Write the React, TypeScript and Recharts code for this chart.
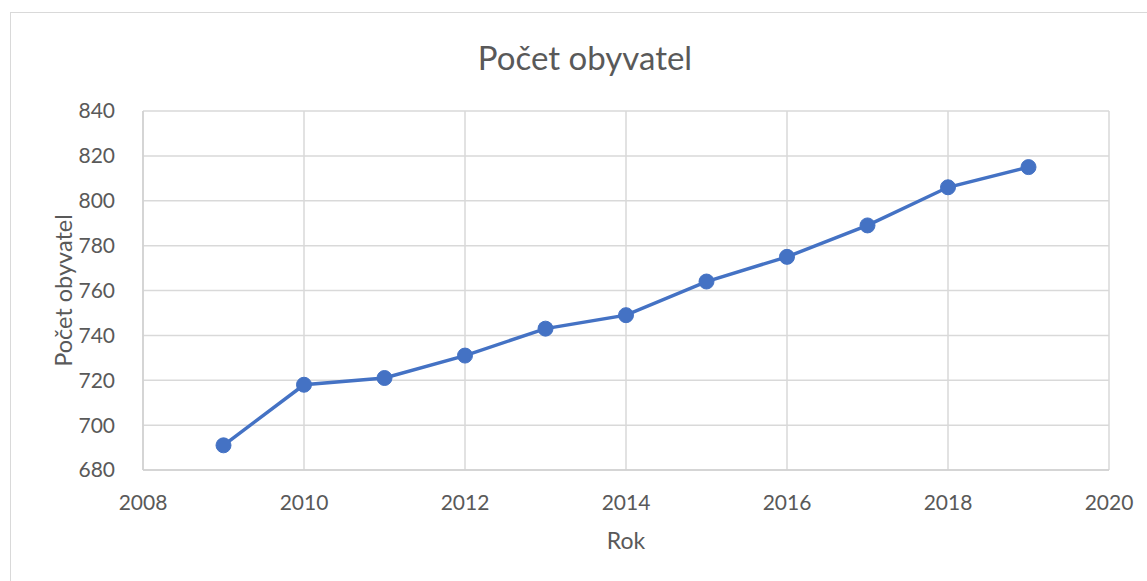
import { LineChart, Line, XAxis, YAxis, CartesianGrid, Label } from "recharts";

const years = [2009, 2010, 2011, 2012, 2013, 2014, 2015, 2016, 2017, 2018, 2019];
const population = [691, 718, 721, 731, 743, 749, 764, 775, 789, 806, 815];
const xTicks = [2008, 2010, 2012, 2014, 2016, 2018, 2020];
const yTicks = [680, 700, 720, 740, 760, 780, 800, 820, 840];

const data = years.map((rok, i) => ({ rok, pocet: population[i] }));

const FONT = "Lato, 'Open Sans', sans-serif";
const GRAY = "#595959";

const App = () => {
  return (
    <div style={{ position: "absolute", left: 0, top: 0, width: 1147, height: 581, background: "#fff", overflow: "hidden", fontFamily: FONT }}>
      {/* chart frame, only left and top edges are in view */}
      <div style={{ position: "absolute", left: 10, top: 12, width: 1200, height: 620, border: "1.5px solid #d9d9d9" }} />
      <div style={{ position: "absolute", left: 10, top: 37, width: 1150, textAlign: "center", fontSize: 33, color: GRAY, lineHeight: "40px" }}>
        Počet obyvatel
      </div>
      <div style={{ position: "absolute", left: 0, top: 0 }}>
        <LineChart width={1147} height={581} data={data} margin={{ top: 111, right: 38, left: 0, bottom: 0 }}>
          <CartesianGrid stroke="#d9d9d9" strokeWidth={1.5} verticalValues={xTicks} horizontalValues={yTicks} />
          <XAxis
            dataKey="rok"
            type="number"
            domain={[2008, 2020]}
            ticks={xTicks}
            height={111}
            axisLine={{ stroke: "#d0d0d0", strokeWidth: 1.5 }}
            tickLine={false}
            tick={{ fill: GRAY, fontSize: 21, fontFamily: FONT }}
            tickMargin={19}
          >
            <Label value="Rok" position="insideTop" offset={63} style={{ fill: GRAY, fontSize: 23, fontFamily: FONT }} />
          </XAxis>
          <YAxis
            type="number"
            domain={[680, 840]}
            ticks={yTicks}
            width={143}
            axisLine={{ stroke: "#d0d0d0", strokeWidth: 1.5 }}
            tickLine={false}
            tick={{ fill: GRAY, fontSize: 21, fontFamily: FONT }}
            tickMargin={22}
          >
            <Label
              content={({ viewBox }: any) => {
                const cy = viewBox.y + viewBox.height / 2;
                return (
                  <text x={63} y={cy} transform={`rotate(-90 63 ${cy})`} textAnchor="middle" dominantBaseline="central" fill={GRAY} fontSize={23.5} fontFamily={FONT}>
                    Počet obyvatel
                  </text>
                );
              }}
            />
          </YAxis>
          <Line
            type="linear"
            dataKey="pocet"
            stroke="#4472C4"
            strokeWidth={3.5}
            dot={{ r: 7.5, fill: "#4472C4", stroke: "#4472C4", strokeWidth: 1 }}
            activeDot={false}
            isAnimationActive={false}
          />
        </LineChart>
      </div>
    </div>
  );
};

export default App;
